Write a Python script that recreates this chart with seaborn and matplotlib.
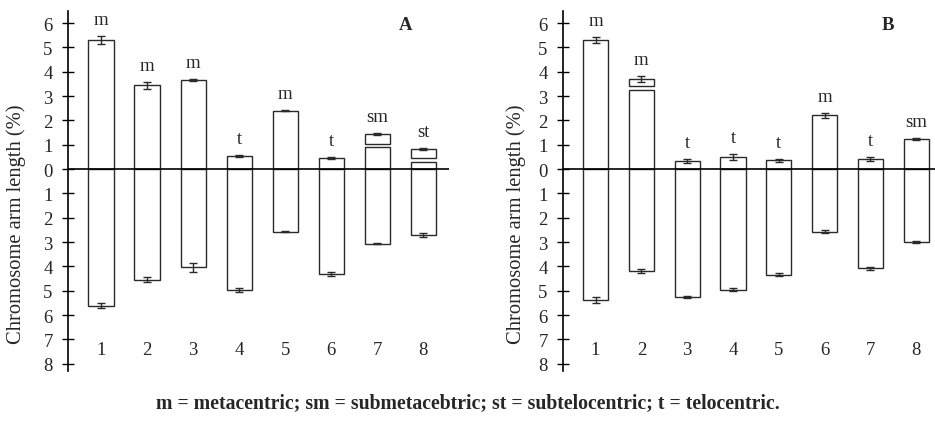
import numpy as np
import matplotlib
matplotlib.use("Agg")
import matplotlib.pyplot as plt
import seaborn as sns

# --- DATA ---
chroms = ['1', '2', '3', '4', '5', '6', '7', '8']

# Panel A
a_upper     = [5.30, 3.44, 3.67, 0.54, 2.40, 0.46, 0.90, 0.29]
a_upper_err = [0.16, 0.14, 0.04, 0.03, 0.03, 0.04, 0.04, 0.04]
a_sat_bot   = [np.nan, np.nan, np.nan, np.nan, np.nan, np.nan, 1.04, 0.46]
a_sat_top   = [np.nan, np.nan, np.nan, np.nan, np.nan, np.nan, 1.45, 0.82]
a_lower     = [5.61, 4.54, 4.04, 4.96, 2.57, 4.32, 3.06, 2.72]
a_lower_err = [0.12, 0.10, 0.17, 0.09, 0.03, 0.08, 0.03, 0.08]
a_type      = ['m', 'm', 'm', 't', 'm', 't', 'sm', 'st']

# Panel B
b_upper     = [5.32, 3.25, 0.34, 0.51, 0.36, 2.21, 0.42, 1.23]
b_upper_err = [0.12, 0.11, 0.09, 0.12, 0.07, 0.11, 0.07, 0.05]
b_sat_bot   = [np.nan, 3.42, np.nan, np.nan, np.nan, np.nan, np.nan, np.nan]
b_sat_top   = [np.nan, 3.71, np.nan, np.nan, np.nan, np.nan, np.nan, np.nan]
b_lower     = [5.38, 4.19, 5.25, 4.95, 4.34, 2.58, 4.08, 3.00]
b_lower_err = [0.12, 0.10, 0.05, 0.05, 0.06, 0.06, 0.05, 0.05]
b_type      = ['m', 'm', 't', 't', 't', 'm', 't', 'sm']

FOOTER = "m = metacentric; sm = submetacebtric; st = subtelocentric; t = telocentric."

sns.set_theme(style="ticks")
plt.rcParams['font.family'] = ['Liberation Serif', 'DejaVu Serif']

EDGE = '#2a2a2a'
FS = 13.5


def draw_panel(ax, upper, upper_err, sat_bot, sat_top, lower, lower_err, types, letter, xlim, lab_x):
    pos = np.arange(len(chroms))
    sns.barplot(x=chroms, y=upper, ax=ax, color='white', saturation=1, edgecolor=EDGE,
                linewidth=1.0, width=0.55, errorbar=None)
    sns.barplot(x=chroms, y=[-v for v in lower], ax=ax, color='white', saturation=1,
                edgecolor=EDGE, linewidth=1.0, width=0.55, errorbar=None)

    # satellite boxes on top of some arms
    sb = np.array(sat_bot, dtype=float)
    st = np.array(sat_top, dtype=float)
    mask = ~np.isnan(sb)
    ax.bar(pos[mask], (st - sb)[mask], bottom=sb[mask], width=0.55, color='white',
           edgecolor=EDGE, linewidth=1.0)

    top = np.where(mask, st, np.array(upper))
    ax.errorbar(pos, top, yerr=upper_err, fmt='none', ecolor=EDGE, elinewidth=1,
                capsize=3, capthick=1)
    ax.errorbar(pos, [-v for v in lower], yerr=lower_err, fmt='none', ecolor=EDGE,
                elinewidth=1, capsize=3, capthick=1)

    for i, t in enumerate(types):
        ax.annotate(t, (pos[i], top[i] + upper_err[i]), xytext=(0, 8.5),
                    textcoords='offset points', ha='center', va='baseline', fontsize=FS)

    # chromosome numbers sit inside the plot below the arms
    for i, c in enumerate(chroms):
        ax.text(pos[i], -7.4, c, ha='center', va='center', fontsize=FS)

    ax.axhline(0, color='black', lw=1.2)
    ax.set_xlim(*xlim)
    ax.set_ylim(-8.3, 6.5)
    yt = np.arange(-8, 7)
    ax.set_yticks(yt)
    ax.set_yticklabels([str(abs(v)) for v in yt], fontsize=FS)
    ax.tick_params(axis='y', direction='inout', length=8, width=1, pad=7, color='black')
    ax.set_xticks([])
    ax.set_xlabel('')
    for s in ['top', 'right', 'bottom']:
        ax.spines[s].set_visible(False)
    ax.spines['left'].set_linewidth(1.2)
    ax.spines['left'].set_color('black')
    ax.set_ylabel('Chromosome arm length (%)', fontsize=14.8)
    ax.yaxis.set_label_coords(lab_x, 0.41)
    ax.text(letter[1], 5.93, letter[0], fontweight='bold', fontsize=FS,
            ha='center', va='center')


fig = plt.figure(figsize=(9.35, 4.27), dpi=100)
fig.patch.set_facecolor('white')
ax_a = fig.add_axes([68 / 935, 55 / 427, 381 / 935, 360 / 427])
ax_b = fig.add_axes([563 / 935, 55 / 427, 372 / 935, 360 / 427])

draw_panel(ax_a, a_upper, a_upper_err, a_sat_bot, a_sat_top, a_lower, a_lower_err,
           a_type, ('A', 6.61), (-0.72, 7.56), -0.11)
draw_panel(ax_b, b_upper, b_upper_err, b_sat_bot, b_sat_top, b_lower, b_lower_err,
           b_type, ('B', 6.38), (-0.71, 7.41), -0.10)

fig.text(0.5, 1 - 403 / 427, FOOTER, ha='center', va='center', fontweight='bold', fontsize=14.2)

plt.savefig('out.png', dpi=100, facecolor='white')
